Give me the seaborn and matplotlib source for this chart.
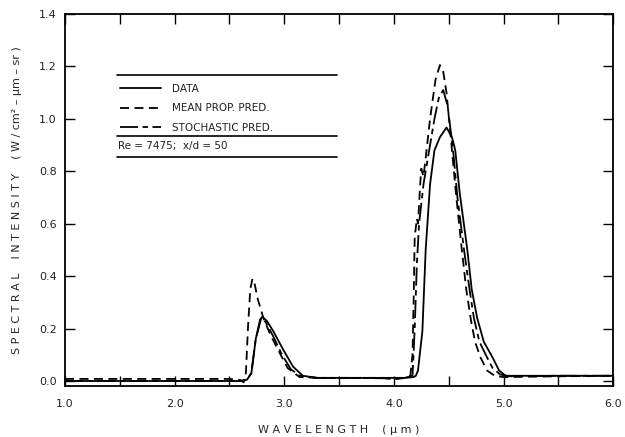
import matplotlib
matplotlib.use("Agg")
import matplotlib.pyplot as plt
import seaborn as sns
import pandas as pd
from matplotlib.lines import Line2D

# ---- data ----
mean_x = [1.0, 1.5, 2.0, 2.5, 2.60, 2.63, 2.65, 2.67, 2.69, 2.71, 2.73, 2.76, 2.81, 2.87, 2.93, 3.03, 3.14, 3.3,
          3.6, 3.9, 4.0, 4.1, 4.15, 4.17, 4.18, 4.19, 4.21, 4.22, 4.24, 4.25, 4.27, 4.29, 4.33, 4.38, 4.42, 4.45,
          4.48, 4.53, 4.57, 4.62, 4.66, 4.70, 4.74, 4.79, 4.85, 4.92, 5.0, 5.5, 6.0]
mean_y = [0.008, 0.008, 0.008, 0.008, 0.004, -0.005, 0.03, 0.21, 0.35, 0.39, 0.37, 0.31, 0.24, 0.18, 0.13, 0.05, 0.015, 0.012,
          0.012, 0.012, 0.006, 0.012, 0.02, 0.1, 0.3, 0.55, 0.62, 0.60, 0.75, 0.81, 0.78, 0.85, 1.0, 1.15, 1.205, 1.18,
          1.10, 0.88, 0.70, 0.50, 0.35, 0.24, 0.15, 0.09, 0.04, 0.02, 0.015, 0.018, 0.02]

stoch_x = [1.0, 2.0, 2.6, 2.66, 2.70, 2.74, 2.79, 2.83, 2.90, 2.98, 3.06, 3.14, 3.3, 3.6, 4.0, 4.1, 4.17, 4.19, 4.21,
           4.23, 4.27, 4.33, 4.37, 4.41, 4.45, 4.49, 4.54, 4.58, 4.64, 4.69, 4.73, 4.78, 4.85, 4.90, 4.97, 5.05, 5.5, 6.0]
stoch_y = [0.0, 0.0, 0.0, 0.005, 0.03, 0.16, 0.24, 0.225, 0.17, 0.10, 0.045, 0.02, 0.012, 0.012, 0.01, 0.012, 0.02, 0.2, 0.45,
           0.6, 0.75, 0.9, 1.0, 1.08, 1.11, 1.05, 0.88, 0.70, 0.50, 0.35, 0.24, 0.15, 0.09, 0.05, 0.025, 0.018, 0.02, 0.02]

data_x = [1.0, 2.0, 2.6, 2.66, 2.70, 2.74, 2.78, 2.80, 2.84, 2.90, 2.99, 3.08, 3.17, 3.3, 3.6, 4.0, 4.1, 4.18, 4.20,
          4.22, 4.26, 4.29, 4.33, 4.37, 4.42, 4.48, 4.53, 4.56, 4.60, 4.67, 4.71, 4.76, 4.82, 4.90, 4.96, 5.02, 5.5, 6.0]
data_y = [0.0, 0.0, 0.0, 0.005, 0.03, 0.16, 0.235, 0.245, 0.23, 0.19, 0.12, 0.055, 0.02, 0.012, 0.012, 0.012, 0.012, 0.015, 0.02,
          0.04, 0.19, 0.50, 0.75, 0.88, 0.93, 0.967, 0.93, 0.88, 0.72, 0.50, 0.35, 0.24, 0.15, 0.09, 0.04, 0.02, 0.02, 0.02]

series_labels = ["DATA", "MEAN PROP. PRED.", "STOCHASTIC PRED."]
x_ticks = [1.0, 2.0, 3.0, 4.0, 5.0, 6.0]
x_ticklabels = ["1.0", "2.0", "3.0", "4.0", "5.0", "6.0"]
y_ticks = [0.0, 0.2, 0.4, 0.6, 0.8, 1.0, 1.2, 1.4]
y_ticklabels = ["0.0", "0.2", "0.4", "0.6", "0.8", "1.0", "1.2", "1.4"]
annotation = "Re = 7475;  x/d = 50"

# ---- plot ----
sns.set_style("ticks")
plt.rcParams['font.family'] = ['DejaVu Sans']

fig = plt.figure(figsize=(6.25, 4.37), dpi=100)
ax = fig.add_axes([0.104, 0.1167, 0.877, 0.8513])

lw = 1.3
df_data = pd.DataFrame({"x": data_x, "y": data_y})
df_mean = pd.DataFrame({"x": mean_x, "y": mean_y})
df_stoch = pd.DataFrame({"x": stoch_x, "y": stoch_y})

sns.lineplot(data=df_data, x="x", y="y", ax=ax, color="black", lw=lw, estimator=None, sort=False)
sns.lineplot(data=df_mean, x="x", y="y", ax=ax, color="black", lw=lw, estimator=None, sort=False)
sns.lineplot(data=df_stoch, x="x", y="y", ax=ax, color="black", lw=lw, estimator=None, sort=False)
lines = ax.get_lines()
lines[1].set_dashes([5, 3])
lines[2].set_dashes([10, 2.5, 3, 2.5])

ax.set_xlim(1.0, 6.0)
ax.set_ylim(-0.019, 1.4)
ax.set_xticks(x_ticks)
ax.set_xticklabels(x_ticklabels)
ax.set_xticks([1.5, 2.5, 3.5, 4.5, 5.5], minor=True)
ax.set_yticks(y_ticks)
ax.set_yticklabels(y_ticklabels)
ax.tick_params(axis="both", which="both", direction="in", length=7, width=1.0,
               top=True, right=True, labelsize=8, color="black", labelcolor="#222222")
ax.tick_params(axis="x", which="both", pad=9)
ax.tick_params(axis="y", which="both", pad=6)
for sp in ax.spines.values():
    sp.set_linewidth(1.3)
    sp.set_color("black")

ax.set_xlabel("W A V E L E N G T H    ( µ m )", fontsize=8, labelpad=12)
ax.set_ylabel("S P E C T R A L    I N T E N S I T Y    ( W / cm² – µm – sr )", fontsize=8, labelpad=12)

# legend-like box
handles = [Line2D([], [], color="black", lw=lw),
           Line2D([], [], color="black", lw=lw, dashes=[5, 3]),
           Line2D([], [], color="black", lw=lw, dashes=[10, 2.5, 3, 2.5])]
leg = ax.legend(handles, series_labels, loc="upper left", bbox_to_anchor=(0.100, 0.812),
                frameon=False, fontsize=7.5, handlelength=4.0, handletextpad=1.0,
                labelspacing=0.9, borderpad=0, borderaxespad=0)
for t in leg.get_texts():
    t.set_color("#222222")

for yy in [0.836, 0.672, 0.616]:
    ax.plot([0.095, 0.496], [yy, yy], transform=ax.transAxes, color="black", lw=1.2)
ax.text(0.097, 0.644, annotation, transform=ax.transAxes, fontsize=7.5, va="center", ha="left",
        color="#222222")

fig.savefig("out.png", dpi=100)
